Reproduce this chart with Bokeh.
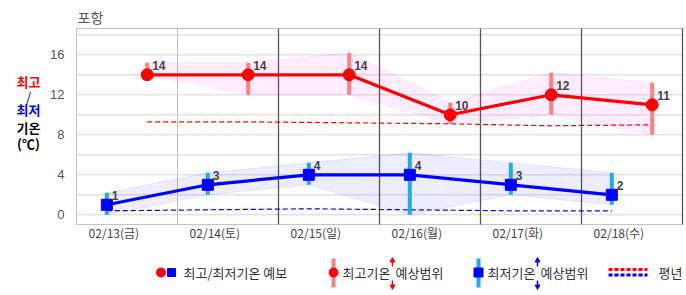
import numpy as np
from bokeh.plotting import figure
from bokeh.models import Range1d, LinearAxis, FixedTicker
from bokeh.core.properties import value
from bokeh.embed import file_html
from bokeh.resources import INLINE

# ---------------- data ----------------
station = "포항"
dates = ["02/13(금)", "02/14(토)", "02/15(일)", "02/16(월)", "02/17(화)", "02/18(수)"]
max_temp = [14, 14, 14, 10, 12, 11]
max_low = [14, 12, 12, 9.1, 10, 8]
max_high = [15.2, 15.2, 16.2, 11.2, 14.2, 13.2]
min_temp = [1, 3, 4, 4, 3, 2]
min_low = [0, 2, 3, 0, 2, 1]
min_high = [2.2, 4.2, 5.2, 6.2, 5.2, 4.2]
max_normal = [9.3, 9.3, 9.2, 9.1, 8.9, 9.0]
min_normal = [0.4, 0.5, 0.6, 0.5, 0.4, 0.4]
y_ticks = [0, 4, 8, 12, 16]
y_grid = [0, 2, 4, 6, 8, 10, 12, 14, 16, 18]

# time-of-day fractions within each day
MIN_FRAC, MAX_FRAC, LABEL_FRAC = 0.3, 0.7, 0.37

n = len(dates)
day = np.arange(n)
x_min = day + MIN_FRAC
x_max = day + MAX_FRAC
x_lab = [round(float(d + LABEL_FRAC), 2) for d in day]

KRF = "Noto Sans CJK KR"
KR = value(KRF)
W, H = 686, 295

# pixel layout of the chart box inside the canvas
BOX_L, BOX_R, BOX_T, BOX_B = 76, 682, 28, 224
PX_DAY = (BOX_R - BOX_L) / n
ZERO_Y, PX_UNIT = 214.3, 10.0

def dx(px):
    return (px - BOX_L) / PX_DAY

def dy(py):
    return (ZERO_Y - py) / PX_UNIT

Y_LO, Y_HI = dy(BOX_B), dy(BOX_T)

p = figure(width=W, height=H, x_range=Range1d(dx(0), dx(W)), y_range=Range1d(dy(H), dy(0)),
           output_backend="svg", toolbar_location=None, x_axis_type=None, y_axis_type=None,
           min_border=0, min_border_left=0, min_border_right=0, min_border_top=0, min_border_bottom=0)
p.outline_line_color = None
p.xgrid.visible = False
p.ygrid.visible = False
p.background_fill_color = "white"
p.border_fill_color = "white"

# grid lines inside the chart box
p.segment([0] * len(y_grid), y_grid, [n] * len(y_grid), y_grid, line_color="#d4d4d4", line_width=1)

# chart box
p.quad(left=[0], right=[n], bottom=[Y_LO], top=[Y_HI], fill_color=None, line_color="#c4c4c4", line_width=1)

# day separators
p.segment([1], [Y_LO], [1], [Y_HI], line_color="#c0c0c0", line_width=1)
sep = list(range(2, n + 1))
p.segment(sep, [Y_LO] * len(sep), sep, [Y_HI] * len(sep), line_color="#555555", line_width=1.3)

# axes fixed on the chart box
yax = LinearAxis(fixed_location=0, ticker=FixedTicker(ticks=y_ticks))
yax.axis_line_color = None
yax.major_tick_line_color = None
yax.minor_tick_line_color = None
yax.major_label_text_font = "Liberation Sans"
yax.major_label_text_font_size = "13px"
yax.major_label_text_color = "#555555"
yax.major_label_standoff = 6
p.add_layout(yax, "left")

xax = LinearAxis(fixed_location=Y_LO, ticker=FixedTicker(ticks=x_lab))
xax.major_label_overrides = {x: d for x, d in zip(x_lab, dates)}
xax.axis_line_color = None
xax.major_tick_line_color = None
xax.minor_tick_line_color = None
xax.major_label_text_font = KRF
xax.major_label_text_font_size = "12px"
xax.major_label_text_color = "#444444"
xax.major_label_standoff = -7
p.add_layout(xax, "below")

# forecast range bands
p.patch(np.concatenate([x_max, x_max[::-1]]), np.concatenate([max_high, max_low[::-1]]),
        fill_color="#ff00ff", fill_alpha=0.07, line_color="#ff00ff", line_alpha=0.08)
p.patch(np.concatenate([x_min, x_min[::-1]]), np.concatenate([min_high, min_low[::-1]]),
        fill_color="#0000ff", fill_alpha=0.07, line_color="#0000ff", line_alpha=0.08)

# normals
p.line(x_max, max_normal, line_color="#ff0000", line_width=1.2, line_dash="5 3")
p.line(x_min, min_normal, line_color="#0000ff", line_width=1.2, line_dash="5 3")

# range bars
p.segment(x_max, max_low, x_max, max_high, line_color="#ff8080", line_width=4)
p.segment(x_min, min_low, x_min, min_high, line_color="#1eaaf0", line_width=4)

# forecast lines
p.line(x_max, max_temp, line_color="#ff0000", line_width=3.2)
p.scatter(x_max, max_temp, marker="circle", size=12, fill_color="#ff0000", line_color="#ff0000")
p.line(x_min, min_temp, line_color="#0000ff", line_width=3.2)
p.scatter(x_min, min_temp, marker="square", size=11, fill_color="#0000ff", line_color="#0000ff")

# value labels
lab_kw = dict(x_offset=5, y_offset=-9, text_font=value("Liberation Sans"), text_font_style="bold",
              text_font_size="12px", text_color="#444444", text_baseline="middle", text_align="left")
p.text(x_max, max_temp, text=[str(v) for v in max_temp], **lab_kw)
p.text(x_min, min_temp, text=[str(v) for v in min_temp], **lab_kw)

# title
p.text([dx(77)], [dy(16)], text=[station], text_font=KR, text_font_size="14px",
       text_color="#555555", text_baseline="middle", text_align="left")

# y-label block
ylab_txt = ["최고", "/", "최저", "기온", "(℃)"]
ylab_col = ["#ff0000", "#000000", "#0000ff", "#000000", "#000000"]
ylab_py = [81, 95.5, 109, 126.5, 142.5]
for txt, col, py in zip(ylab_txt, ylab_col, ylab_py):
    p.text([dx(28)], [dy(py)], text=[txt], text_font=KR, text_font_size="13px",
           text_font_style="normal" if txt == "/" else "bold",
           text_color=col, text_baseline="middle", text_align="center")

# ---------------- legend ----------------
cy = dy(272)
ltxt = dict(text_font=KR, text_font_size="13px", text_color="#333333",
            text_baseline="middle", text_align="left")

p.scatter([dx(160.5)], [cy], marker="circle", size=9, color="#ff0000")
p.scatter([dx(171)], [cy], marker="square", size=8, color="#0000ff")
p.text([dx(183)], [cy], text=["최고/최저기온 예보"], **ltxt)

def range_item(xb, color_bar, marker, mcolor, label, xt, xa):
    p.segment([dx(xb)], [dy(258)], [dx(xb)], [dy(287)], line_color=color_bar, line_width=4)
    p.scatter([dx(xb)], [cy], marker=marker, size=9, color=mcolor)
    p.text([dx(xt)], [cy], text=[label], **ltxt)
    p.text([dx(xa + 3)], [cy], text=["예상범위"], **ltxt)
    p.segment([dx(xa), dx(xa)], [dy(260), dy(280)], [dx(xa), dx(xa)], [dy(266), dy(286)],
              line_color=mcolor, line_width=1.5)
    p.scatter([dx(xa)], [dy(260)], marker="triangle", size=5, color=mcolor)
    p.scatter([dx(xa)], [dy(286)], marker="inverted_triangle", size=5, color=mcolor)

range_item(333, "#ff8080", "circle", "#ff0000", "최고기온", 342, 392)
range_item(478, "#1eaaf0", "square", "#0000ff", "최저기온", 487, 537)

p.segment([dx(608)], [dy(269)], [dx(647)], [dy(269)], line_color="#ff0000", line_width=3, line_dash="4 2")
p.segment([dx(608)], [dy(274.5)], [dx(647)], [dy(274.5)], line_color="#0000ff", line_width=3, line_dash="4 2")
p.text([dx(658)], [cy], text=["평년"], **ltxt)

open("out.html", "w").write(file_html(p, INLINE))
